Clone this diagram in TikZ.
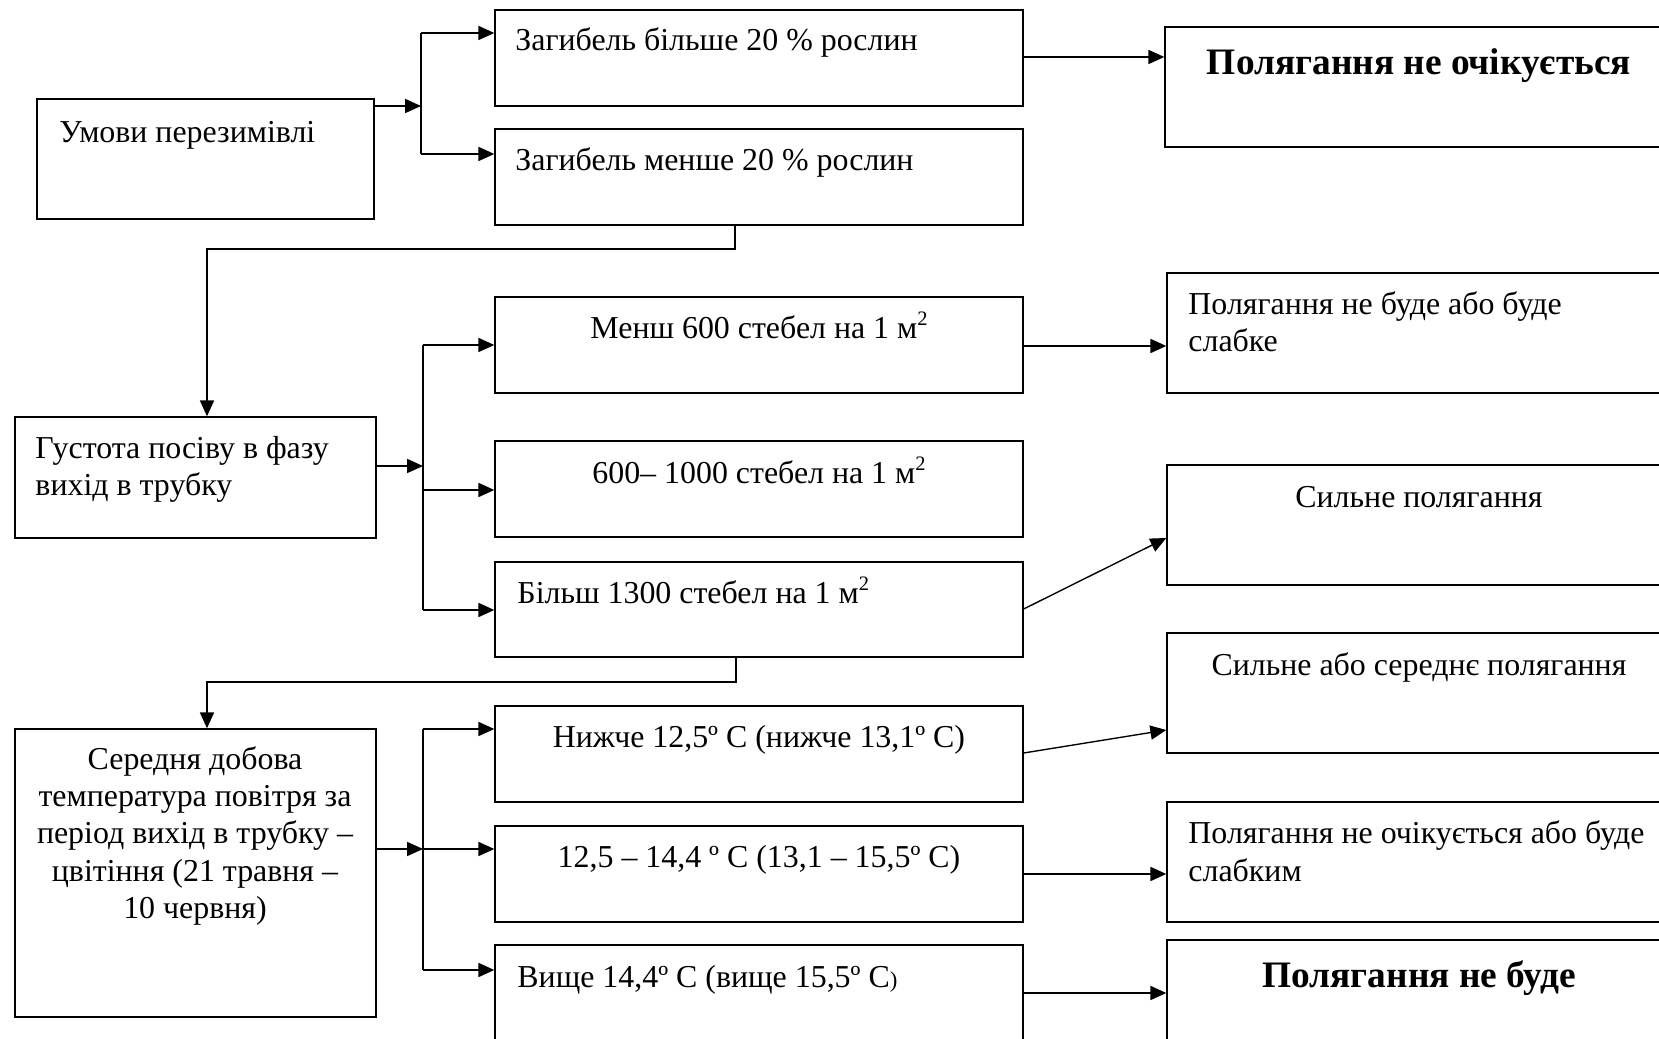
\documentclass[tikz,border=0pt]{standalone}
\usepackage{fontspec}
\setmainfont{Liberation Serif}
\usetikzlibrary{fit,arrows.meta}
\newcommand{\sqm}{\raisebox{0.9ex}{\fontsize{9}{10}\selectfont 2}}
\begin{document}
\begin{tikzpicture}[x=0.01542cm, y=-0.01542cm,
  box/.style={draw=black, line width=0.6pt, inner sep=0pt, rectangle},
  txt/.style={inner sep=0pt, font=\fontsize{14}{16}\selectfont},
  btxt/.style={inner sep=0pt, font=\fontsize{16.4}{19}\selectfont\bfseries},
  conn/.style={line width=0.6pt},
  arr/.style={conn, -{Triangle[length=7pt,width=6.2pt]}}]
\useasboundingbox (0,0) rectangle (1659,1039);
\clip (0,0) rectangle (1659,1039);

% boxes
\node[box, fit={(37,99) (374,219)}] (L1) {};
\node[box, fit={(15,417) (376,538)}] (L2) {};
\node[box, fit={(15,729) (376,1017)}] (L3) {};
\node[box, fit={(495,10) (1023,106)}] (M1) {};
\node[box, fit={(495,129) (1023,225)}] (M2) {};
\node[box, fit={(495,297) (1023,393)}] (M3) {};
\node[box, fit={(495,441) (1023,537)}] (M4) {};
\node[box, fit={(495,562) (1023,657)}] (M5) {};
\node[box, fit={(495,706) (1023,802)}] (M6) {};
\node[box, fit={(495,826) (1023,922)}] (M7) {};
\node[box, fit={(495,945) (1023,1060)}] (M8) {};
\node[box, fit={(1165,27) (1690,147)}] (R1) {};
\node[box, fit={(1167,273) (1690,393)}] (R2) {};
\node[box, fit={(1167,465) (1690,585)}] (R3) {};
\node[box, fit={(1167,633) (1690,753)}] (R4) {};
\node[box, fit={(1167,802) (1690,922)}] (R5) {};
\node[box, fit={(1167,940) (1690,1070)}] (R6) {};

% texts
\node[txt, anchor=base west] (tL1) at (59,143) {Умови перезимівлі};
\node[txt, anchor=base west] (tL2a) at (35,459) {Густота посіву в фазу};
\node[txt, anchor=base west] (tL2b) at (35,496) {вихід в трубку};
\node[txt, anchor=base] (tL3a) at (195,770) {Середня добова};
\node[txt, anchor=base] (tL3b) at (195,807) {температура повітря за};
\node[txt, anchor=base] (tL3c) at (195,844) {період вихід в трубку –};
\node[txt, anchor=base] (tL3d) at (195,881) {цвітіння (21 травня –};
\node[txt, anchor=base] (tL3e) at (195,918) {10 червня)};

\node[txt, anchor=base west] (tM1) at (515,51) {Загибель більше 20 \% рослин};
\node[txt, anchor=base west] (tM2) at (515,171) {Загибель менше 20 \% рослин};
\node[txt, anchor=base] (tM3) at (759,339) {Менш 600 стебел на 1 м\sqm};
\node[txt, anchor=base] (tM4) at (759,484) {600– 1000 стебел на 1 м\sqm};
\node[txt, anchor=base west] (tM5) at (517,604) {Більш 1300 стебел на 1 м\sqm};
\node[txt, anchor=base] (tM6) at (759,748) {Нижче 12,5º С (нижче 13,1º С)};
\node[txt, anchor=base] (tM7) at (759,868) {12,5 – 14,4 º С (13,1 – 15,5º С)};
\node[txt, anchor=base west] (tM8) at (517,987) {Вище 14,4º С (вище 15,5º С{\fontsize{10}{12}\selectfont )}};

\node[btxt, anchor=base] (tR1) at (1419,75) {Полягання не очікується};
\node[txt, anchor=base west] (tR2a) at (1188,315) {Полягання не буде або буде};
\node[txt, anchor=base west] (tR2b) at (1188,352) {слабке};
\node[txt, anchor=base] (tR3) at (1419,508) {Сильне полягання};
\node[txt, anchor=base] (tR4) at (1419,676) {Сильне або середнє полягання};
\node[txt, anchor=base west] (tR5a) at (1188,844) {Полягання не очікується або буде};
\node[txt, anchor=base west] (tR5b) at (1188,881) {слабким};
\node[btxt, anchor=base] (tR6) at (1419,988) {Полягання не буде};

% junction coordinates
\coordinate (j1) at (421,106);
\coordinate (j1t) at (421,33);
\coordinate (j1b) at (421,154);
\coordinate (a1) at (1023,57);
\coordinate (d1) at (735,249);
\coordinate (d1b) at (207,249);
\coordinate (j2) at (423,466);
\coordinate (j2t) at (423,345);
\coordinate (j2m) at (423,490);
\coordinate (j2b) at (423,610);
\coordinate (a3) at (1023,346);
\coordinate (s5) at (1023,609);
\coordinate (e3) at (1167,538);
\coordinate (d2) at (736,682);
\coordinate (d2b) at (207,682);
\coordinate (j3) at (423,849);
\coordinate (j3t) at (423,729);
\coordinate (j3b) at (423,970);
\coordinate (s6) at (1023,753);
\coordinate (e4) at (1167,730);
\coordinate (a7) at (1023,874);
\coordinate (a8) at (1023,993);

% connectors
\draw[arr] (L1.east |- j1) -- (j1);
\draw[conn] (j1t) -- (j1b);
\draw[arr] (j1t) -- (M1.west |- j1t);
\draw[arr] (j1b) -- (M2.west |- j1b);
\draw[arr] (M1.east |- a1) -- (R1.west |- a1);
\draw[arr] (M2.south -| d1) -- (d1) -- (d1b) -- (L2.north -| d1b);

\draw[arr] (L2.east |- j2) -- (j2);
\draw[conn] (j2t) -- (j2b);
\draw[arr] (j2t) -- (M3.west |- j2t);
\draw[arr] (j2m) -- (M4.west |- j2m);
\draw[arr] (j2b) -- (M5.west |- j2b);
\draw[arr] (M3.east |- a3) -- (R2.west |- a3);
\draw[arr] (M5.east |- s5) -- (R3.west |- e3);
\draw[arr] (M5.south -| d2) -- (d2) -- (d2b) -- (L3.north -| d2b);

\draw[arr] (L3.east |- j3) -- (j3);
\draw[conn] (j3t) -- (j3b);
\draw[arr] (j3t) -- (M6.west |- j3t);
\draw[arr] (j3) -- (M7.west |- j3);
\draw[arr] (j3b) -- (M8.west |- j3b);
\draw[arr] (M6.east |- s6) -- (R4.west |- e4);
\draw[arr] (M7.east |- a7) -- (R5.west |- a7);
\draw[arr] (M8.east |- a8) -- (R6.west |- a8);
\end{tikzpicture}
\end{document}
